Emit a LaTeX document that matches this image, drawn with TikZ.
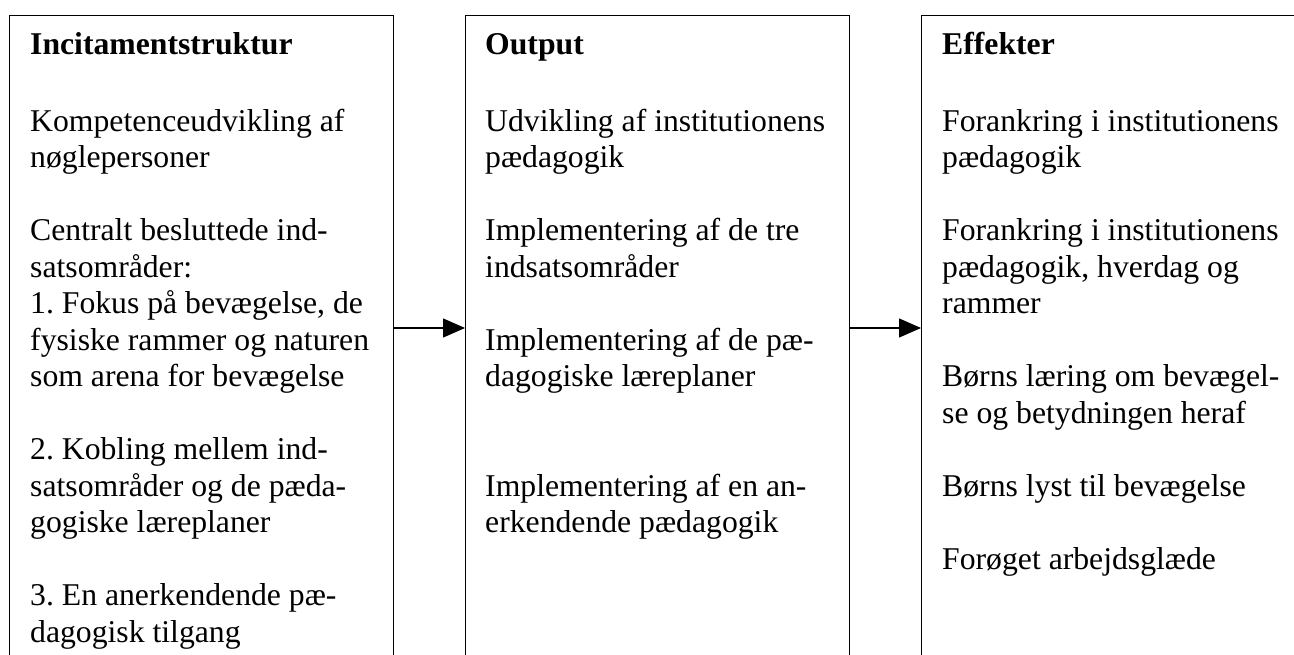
\documentclass[tikz,border=0pt]{standalone}
\usepackage{fontspec}
\setmainfont{Liberation Serif}
\usetikzlibrary{arrows.meta}
\frenchspacing
\newcommand\boxtext[1]{\vtop{\hsize=400pt\parindent=0pt\parskip=0pt\rightskip=0pt plus 1fil\relax\frenchspacing #1\par}}
\newcommand\blankline{\mbox{}\par}
\newcommand\titleline[1]{\textbf{#1}\par\vskip 40pt\relax}
\begin{document}
\begin{tikzpicture}[x=1pt,y=-1pt,
  panel/.style={draw, line width=1.3pt, minimum height=720pt, anchor=north west, inner sep=0pt},
  txt/.style={anchor=base west, inner sep=0pt, font=\fontsize{31.7}{36.5}\selectfont},
  arr/.style={line width=1.3pt, -{Triangle[length=22pt,width=19pt]}}]
\useasboundingbox (0,0) rectangle (1294,655);
\clip (0,0) rectangle (1294,655);
\node[panel, minimum width=384pt] (b1) at (9,15) {};
\node[panel, minimum width=384pt] (b2) at (465,15) {};
\node[panel, minimum width=400pt] (b3) at (921,15) {};
\coordinate (ay) at (0,328);
\draw[arr] (b1.east |- ay) -- (b2.west |- ay);
\draw[arr] (b2.east |- ay) -- (b3.west |- ay);
\node[txt] (t1) at (30,55) {\boxtext{%
\titleline{Incitamentstruktur}
Kompetenceudvikling af\par
nøglepersoner\par
\blankline
Centralt besluttede ind-\par
satsområder:\par
1. Fokus på bevægelse, de\par
fysiske rammer og naturen\par
som arena for bevægelse\par
\blankline
2. Kobling mellem ind-\par
satsområder og de pæda-\par
gogiske læreplaner\par
\blankline
3. En anerkendende pæ-\par
dagogisk tilgang}};
\node[txt] (t2) at (485,55) {\boxtext{%
\titleline{Output}
Udvikling af institutionens\par
pædagogik\par
\blankline
Implementering af de tre\par
indsatsområder\par
\blankline
Implementering af de pæ-\par
dagogiske læreplaner\par
\blankline
\blankline
Implementering af en an-\par
erkendende pædagogik}};
\node[txt] (t3) at (942,55) {\boxtext{%
\titleline{Effekter}
Forankring i institutionens\par
pædagogik\par
\blankline
Forankring i institutionens\par
pædagogik, hverdag og\par
rammer\par
\blankline
Børns læring om bevægel-\par
se og betydningen heraf\par
\blankline
Børns lyst til bevægelse\par
\blankline
Forøget arbejdsglæde}};
\end{tikzpicture}
\end{document}
